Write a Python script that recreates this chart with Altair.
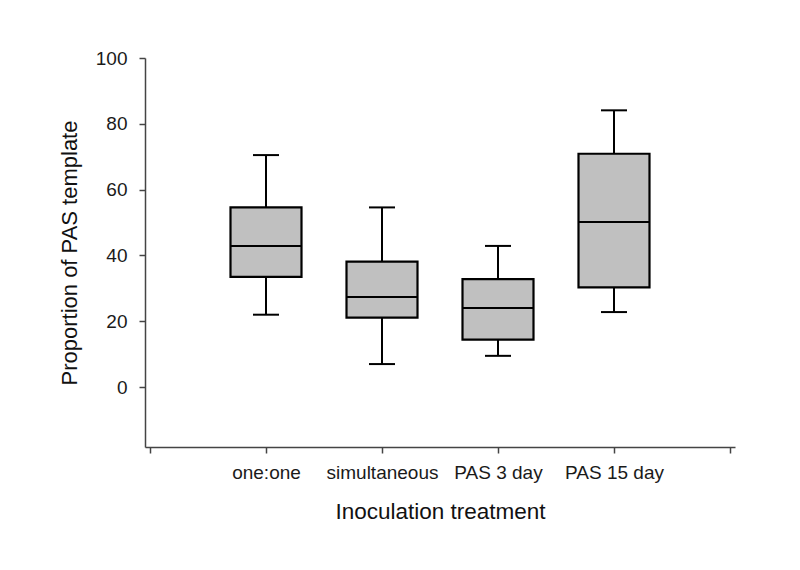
import altair as alt
import pandas as pd

categories = ["one:one", "simultaneous", "PAS 3 day", "PAS 15 day"]
whisker_low = [22.0, 7.0, 9.5, 22.8]
q1 = [33.5, 21.1, 14.4, 30.3]
median = [42.9, 27.4, 24.0, 50.2]
q3 = [54.6, 38.1, 32.8, 70.9]
whisker_high = [70.5, 54.6, 42.9, 84.1]

y_ticks = [0, 20, 40, 60, 80, 100]
x_ticks = [0, 1, 2, 3, 4, 5]

df = pd.DataFrame({
    "treatment": categories,
    "pos": list(range(1, len(categories) + 1)),
    "lo": whisker_low,
    "q1": q1,
    "median": median,
    "q3": q3,
    "hi": whisker_high,
})

label_list = [""] + categories + [""]
label_expr = "[" + ",".join("'" + s + "'" for s in label_list) + "][datum.value]"

FONT = "Liberation Sans"

x_enc = alt.X(
    "pos:Q",
    scale=alt.Scale(domain=[0, 5], nice=False, zero=False),
    axis=alt.Axis(
        values=x_ticks,
        labelExpr=label_expr,
        title="Inoculation treatment",
        grid=False,
        labelOverlap=False,
        labelFlush=False,
        tickSize=6,
        labelPadding=10,
        titlePadding=18,
        titleFontSize=22.5,
    ),
)
y_scale = alt.Scale(domain=[-18.2, 100], nice=False, zero=False)
y_axis = alt.Axis(
    values=y_ticks,
    title="Proportion of PAS template",
    grid=False,
    tickSize=6,
    labelPadding=12,
    titlePadding=14,
)

base = alt.Chart(df)

whiskers = base.mark_rule(color="black", strokeWidth=2).encode(
    x=x_enc,
    y=alt.Y("lo:Q", scale=y_scale, axis=y_axis),
    y2="hi:Q",
)
boxes = base.mark_bar(size=71, fill="#c0c0c0", stroke="black", strokeWidth=2.2).encode(
    x=x_enc,
    y=alt.Y("q1:Q", scale=y_scale, axis=y_axis),
    y2="q3:Q",
)
medians = base.mark_tick(orient="horizontal", size=71, thickness=2, color="black", opacity=1).encode(
    x=x_enc,
    y=alt.Y("median:Q", scale=y_scale, axis=y_axis),
)
caps_lo = base.mark_tick(orient="horizontal", size=26, thickness=2, color="black", opacity=1).encode(
    x=x_enc,
    y=alt.Y("lo:Q", scale=y_scale, axis=y_axis),
)
caps_hi = base.mark_tick(orient="horizontal", size=26, thickness=2, color="black", opacity=1).encode(
    x=x_enc,
    y=alt.Y("hi:Q", scale=y_scale, axis=y_axis),
)

chart = (
    alt.layer(whiskers, boxes, medians, caps_lo, caps_hi)
    .properties(
        width=590,
        height=389,
        autosize=alt.AutoSizeParams(type="none"),
        padding={"left": 137, "top": 50, "right": 57, "bottom": 100},
        background="white",
    )
    .configure_view(stroke=None)
    .configure_axis(
        labelFont=FONT,
        titleFont=FONT,
        labelFontSize=19,
        titleFontSize=22,
        titleFontWeight="normal",
        labelColor="#1a1a1a",
        titleColor="#111111",
        domainColor="#444444",
        tickColor="#444444",
        domainWidth=1.5,
        tickWidth=1.5,
    )
)

chart.save("out.html", embed_options={"renderer": "svg", "actions": False})
